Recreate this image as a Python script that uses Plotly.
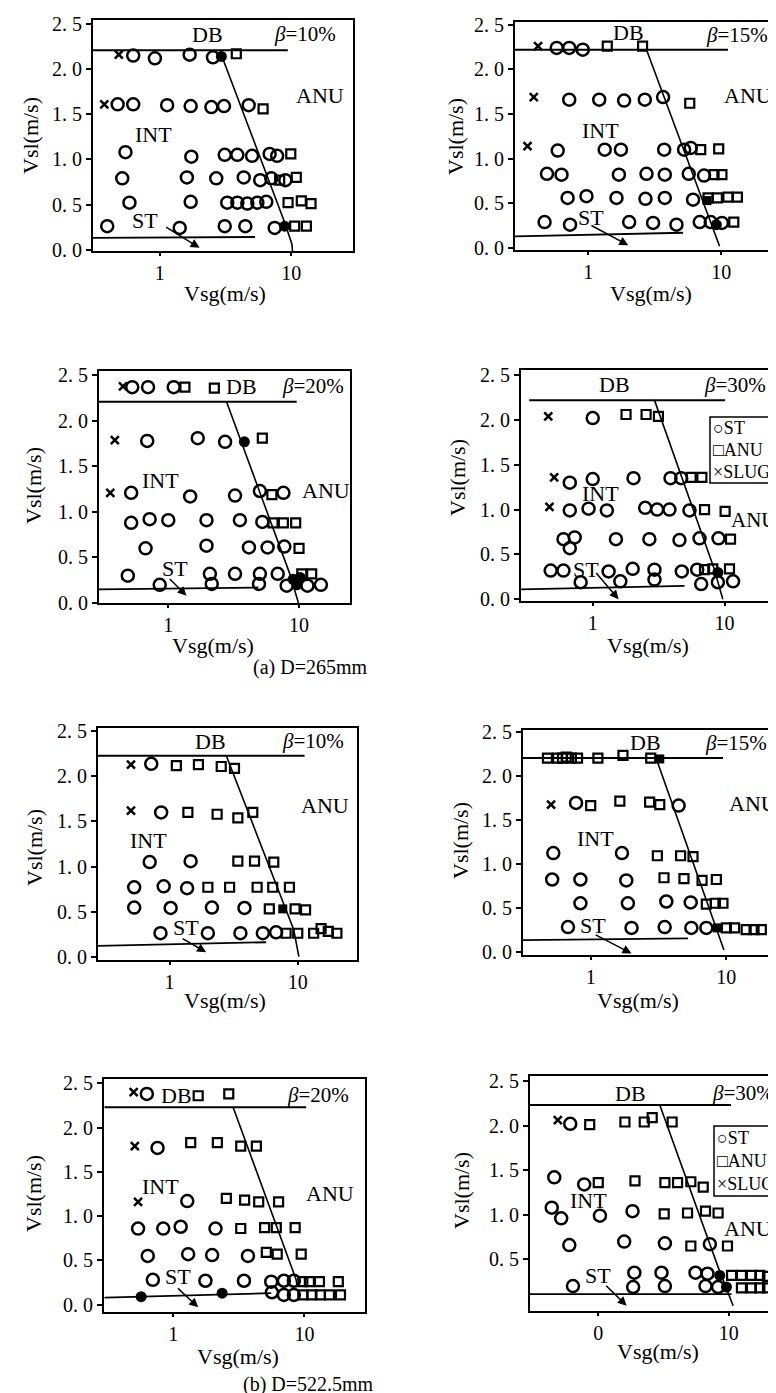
import numpy as np
import plotly.graph_objects as go

W, H = 776, 1393
FONT = "Liberation Serif, Times New Roman, serif"

# ---------------- data: (Vsg, Vsl) pairs, m/s ----------------
# (a) D=265mm, beta=10%
A10_ST = [(0.63,2.15),(0.92,2.12),(1.69,2.16),(2.54,2.13),
          (0.48,1.61),(0.63,1.61),(1.14,1.60),(1.72,1.59),(2.47,1.58),(3.08,1.59),(4.74,1.60),
          (0.55,1.08),(1.74,1.03),(3.12,1.05),(3.89,1.05),(5.03,1.04),(6.84,1.06),(7.8,1.04),
          (0.52,0.79),(1.61,0.80),(2.69,0.79),(4.35,0.80),(5.8,0.77),(7.05,0.79),(9.0,0.77),
          (0.59,0.52),(1.72,0.53),(3.26,0.52),(3.89,0.52),(4.63,0.51),(5.52,0.52),(6.45,0.53),
          (0.40,0.26),(1.42,0.24),(3.12,0.26),(4.47,0.26),(7.47,0.24)]
A10_ANU = [(3.82,2.17),(6.1,1.56),(9.9,1.06),(8.15,0.77),(10.9,0.80),
           (9.44,0.52),(11.9,0.54),(14.1,0.51),(10.6,0.26),(13.0,0.26)]
A10_SLUG = [(0.49,2.16),(0.38,1.61)]
A10_FILL = [(2.94,2.14),(8.9,0.26)]
A10_FILLSQ = []
A10_DB = [(0.31,2.21),(9.4,2.21)]
A10_STLINE = [(0.31,0.13),(5.3,0.14)]
A10_TRANS = [(2.94,2.16),(8.9,0.30),(10.1,0.06),(10.2,-0.02)]
A10_ARROW = [(1.09,0.26),(2.01,0.02)]

# (a) beta=15%
A15_ST = [(0.58,2.24),(0.72,2.24),(0.91,2.22),
          (0.72,1.66),(1.21,1.66),(1.86,1.65),(2.66,1.66),(3.65,1.69),
          (0.59,1.09),(1.33,1.10),(1.76,1.10),(3.72,1.10),(5.25,1.10),(5.89,1.12),
          (0.49,0.83),(0.63,0.82),(1.70,0.82),(2.74,0.83),(3.76,0.82),(5.69,0.83),(7.41,0.81),
          (0.70,0.56),(0.97,0.58),(1.63,0.56),(2.69,0.55),(3.76,0.56),(6.13,0.54),
          (0.47,0.29),(0.73,0.26),(2.03,0.29),(3.07,0.28),(4.6,0.26),(6.88,0.29),(8.32,0.29),(10.1,0.28)]
A15_ANU = [(1.39,2.26),(2.56,2.26),(5.79,1.62),(7.0,1.10),(9.55,1.11),(8.81,0.82),(10.1,0.82),
           (7.94,0.56),(9.33,0.56),(11.2,0.57),(13.2,0.57),(12.4,0.29)]
A15_SLUG = [(0.42,2.26),(0.39,1.69),(0.35,1.14)]
A15_FILL = [(9.17,0.26)]
A15_FILLSQ = [(7.8,0.53)]
A15_DB = [(0.28,2.22),(11.2,2.22)]
A15_STLINE = [(0.28,0.13),(5.16,0.17)]
A15_TRANS = [(2.74,2.22),(9.7,0.02)]
A15_ARROW = [(1.03,0.26),(2.0,0.03)]

# (a) beta=20%
A20_ST = [(0.53,2.37),(0.70,2.37),(1.10,2.37),
          (0.69,1.78),(1.68,1.81),(2.72,1.77),
          (0.52,1.21),(1.47,1.17),(3.24,1.18),(5.02,1.23),(7.6,1.21),
          (0.52,0.88),(0.72,0.92),(1.0,0.91),(1.96,0.91),(3.53,0.91),(5.24,0.89),
          (0.67,0.60),(1.96,0.63),(4.14,0.61),(5.75,0.61),(7.72,0.62),
          (0.49,0.30),(2.08,0.32),(3.24,0.32),(5.02,0.32),(6.87,0.32),
          (0.86,0.20),(2.15,0.21),(4.94,0.21),(8.05,0.19),(11.6,0.19),(14.7,0.20)]
A20_ANU = [(1.34,2.37),(2.25,2.36),(5.24,1.81),(6.2,1.19),(6.33,0.88),(7.59,0.88),(9.43,0.88),
           (10.0,0.60),(10.5,0.32),(12.5,0.32)]
A20_SLUG = [(0.45,2.38),(0.39,1.79),(0.36,1.21)]
A20_FILL = [(3.82,1.77),(9.0,0.26),(9.6,0.20),(10.2,0.28)]
A20_FILLSQ = []
A20_DB = [(0.295,2.21),(9.6,2.21)]
A20_STLINE = [(0.295,0.15),(4.89,0.17)]
A20_TRANS = [(2.79,2.21),(8.5,0.32),(9.9,0.0)]
A20_ARROW = [(1.0,0.28),(1.38,0.08)]

# (a) beta=30%
A30_ST = [(1.0,2.02),
          (0.67,1.30),(1.0,1.34),(2.04,1.35),(3.89,1.35),(4.69,1.35),
          (0.67,0.99),(0.93,1.01),(1.28,0.99),(2.50,1.02),(3.08,1.0),(3.82,1.0),(5.42,0.99),
          (0.60,0.67),(0.73,0.69),(0.67,0.57),(1.50,0.67),(2.69,0.67),(4.55,0.66),(6.46,0.68),(9.0,0.68),
          (0.48,0.32),(0.60,0.32),(1.32,0.31),(2.01,0.34),(2.94,0.33),(4.74,0.31),(6.2,0.33),
          (0.81,0.19),(1.62,0.20),(2.94,0.22),(6.65,0.17),(8.9,0.19),(11.6,0.20)]
A30_ANU = [(1.79,2.06),(2.54,2.06),(3.15,2.04),(5.58,1.36),(6.73,1.36),(7.05,1.0),(10.1,0.98),
           (11.1,0.67),(7.05,0.33),(8.15,0.34),(10.9,0.34)]
A30_SLUG = [(0.46,2.04),(0.51,1.36),(0.47,1.03)]
A30_FILL = [(8.9,0.30)]
A30_FILLSQ = []
A30_DB = [(0.33,2.22),(10.1,2.22)]
A30_STLINE = [(0.286,0.11),(4.97,0.15)]
A30_TRANS = [(2.94,2.22),(8.3,0.35),(9.7,0.0)]
A30_ARROW = [(1.04,0.31),(1.57,0.0)]

# (b) D=522.5mm, beta=10%
B10_ST = [(0.72,2.14),(0.86,1.60),(0.70,1.05),(1.46,1.06),
          (0.53,0.77),(0.90,0.78),(1.37,0.76),
          (0.53,0.545),(1.02,0.54),(2.14,0.545),(3.84,0.54),
          (0.85,0.26),(1.99,0.26),(3.57,0.26),(5.34,0.26),(6.78,0.27)]
B10_ANU = [(1.13,2.12),(1.68,2.13),(2.53,2.11),(3.21,2.09),
           (1.39,1.60),(2.35,1.58),(3.41,1.54),(4.46,1.60),
           (3.41,1.06),(4.6,1.06),(6.5,1.05),
           (1.99,0.77),(2.94,0.77),(4.82,0.77),(6.38,0.77),(8.61,0.77),
           (6.0,0.53),(9.53,0.53),(11.5,0.52),
           (8.11,0.26),(10.0,0.26),(13.3,0.26),(15.2,0.31),(17.3,0.28),(20.2,0.26)]
B10_SLUG = [(0.50,2.13),(0.50,1.62)]
B10_FILL = []
B10_FILLSQ = [(7.64,0.53)]
B10_DB = [(0.277,2.23),(11.3,2.23)]
B10_STLINE = [(0.277,0.12),(5.67,0.16)]
B10_TRANS = [(2.77,2.23),(9.3,0.30),(10.2,0.0)]
B10_ARROW = [(1.23,0.21),(1.93,0.05)]

# (b) beta=15%
B15_ST = [(0.78,1.69),(4.45,1.66),(0.53,1.12),(1.70,1.12),
          (0.52,0.82),(0.84,0.82),(1.83,0.81),
          (0.84,0.55),(1.88,0.55),(3.61,0.57),(5.46,0.56),
          (0.68,0.28),(2.0,0.27),(3.51,0.28),(5.52,0.27),(7.12,0.27)]
B15_ANU = [(0.48,2.20),(0.57,2.20),(0.62,2.20),(0.66,2.21),(0.72,2.20),(0.80,2.20),(1.13,2.20),
           (1.73,2.23),(2.77,2.20),
           (1.0,1.66),(1.64,1.71),(2.72,1.70),(3.23,1.67),
           (3.10,1.09),(4.6,1.09),(5.68,1.08),
           (3.47,0.84),(4.87,0.83),(6.62,0.81),(8.44,0.82),
           (7.12,0.54),(8.3,0.55),(9.44,0.55),
           (10.0,0.27),(11.5,0.27),(14.0,0.25),(16.0,0.25),(18.1,0.25)]
B15_SLUG = [(0.51,1.67)]
B15_FILL = []
B15_FILLSQ = [(3.23,2.19),(8.59,0.27)]
B15_DB = [(0.317,2.20),(9.45,2.20)]
B15_STLINE = [(0.317,0.13),(5.22,0.15)]
B15_TRANS = [(3.05,2.19),(9.6,0.02)]
B15_ARROW = [(1.06,0.20),(2.0,-0.02)]

# (b) beta=20%
B20_ST = [(0.63,2.38),(0.76,1.77),(1.28,1.17),
          (0.54,0.86),(0.84,0.86),(1.14,0.88),(2.10,0.86),
          (0.64,0.55),(1.30,0.57),(1.98,0.56),(3.71,0.55),
          (0.70,0.28),(1.76,0.27),(3.46,0.27),(5.58,0.26),(6.97,0.27),(8.30,0.27),
          (5.65,0.14),(6.97,0.11),(8.3,0.11)]
B20_ANU = [(1.55,2.36),(2.65,2.38),(1.36,1.83),(2.17,1.83),(3.27,1.79),(4.30,1.79),
           (2.54,1.20),(3.50,1.18),(4.48,1.16),(6.35,1.16),
           (3.27,0.86),(4.97,0.87),(6.10,0.87),(8.49,0.87),
           (5.12,0.59),(6.2,0.57),(9.44,0.57),
           (9.71,0.26),(10.9,0.26),(13.0,0.26),(18.1,0.26),
           (9.71,0.11),(11.4,0.11),(13.2,0.11),(15.5,0.11),(18.8,0.11)]
B20_SLUG = [(0.50,2.40),(0.51,1.79),(0.54,1.16)]
B20_FILL = [(0.57,0.09),(2.36,0.13)]
B20_FILLSQ = []
B20_DB = [(0.30,2.23),(10.3,2.23)]
B20_STLINE = [(0.30,0.08),(5.58,0.13)]
B20_TRANS = [(2.86,2.23),(8.65,0.28),(8.8,0.20)]
B20_ARROW = [(1.06,0.20),(1.55,-0.03)]

# (b) beta=30%
B30_ST = [(0.61,2.02),(0.46,1.42),(0.78,1.34),
          (0.44,1.08),(0.52,0.96),(1.03,0.99),(1.83,1.04),
          (0.60,0.66),(1.58,0.70),(3.24,0.68),(7.16,0.67),
          (1.89,0.35),(3.05,0.35),(5.56,0.35),(6.87,0.34),
          (0.64,0.20),(1.85,0.19),(3.24,0.20),(6.63,0.20),(8.28,0.19)]
B30_ANU = [(0.86,2.01),(1.60,2.04),(2.25,2.04),(2.59,2.09),(3.68,2.04),
           (1.0,1.36),(1.91,1.38),(3.24,1.36),(4.05,1.36),(5.12,1.37),(6.37,1.31),
           (3.20,1.01),(4.83,1.02),(6.63,1.04),(8.28,1.02),
           (5.12,0.65),(9.77,0.65),
           (10.5,0.32),(12.5,0.32),(14.9,0.32),(17.3,0.32),(19.8,0.31),
           (12.5,0.18),(14.9,0.18),(17.3,0.18),(19.8,0.18)]
B30_SLUG = [(0.49,2.06)]
B30_FILL = [(8.53,0.32),(9.6,0.19)]
B30_FILLSQ = []
B30_DB = [(0.30,2.23),(10.4,2.23)]
B30_STLINE = [(0.30,0.11),(10.5,0.11)]
B30_TRANS = [(2.96,2.23),(8.3,0.41),(10.8,-0.02)]
B30_ARROW = [(1.12,0.22),(1.65,-0.02)]

X_TICKS = [1, 10]
X_TICKTEXT = ["1", "10"]
X_TICKTEXT_B30 = ["0", "10"]
Y_TICKS = [0.0, 0.5, 1.0, 1.5, 2.0, 2.5]
Y_TICKTEXT = ["0. 0", "0. 5", "1. 0", "1. 5", "2. 0", "2. 5"]
BETAS = ["10%", "15%", "20%", "30%", "10%", "15%", "20%", "30%"]
CAPTIONS = ["(a) D=265mm", "(b) D=522.5mm"]
LEGEND_ITEMS = ["○ST", "□ANU", "×SLUG"]

# ---------------- layout of panels (pixels) ----------------
panels = [
    dict(d=(A10_ST, A10_ANU, A10_SLUG, A10_FILL, A10_FILLSQ, A10_DB, A10_STLINE, A10_TRANS, A10_ARROW),
         box=(85, 12, 345, 243), xr=(-0.506, 1.468), yr=(-0.015, 2.544),
         DB=(200, 26), beta=(297, 26, "center"), ANU=(312, 88, "center"), INT=(145, 127), ST=(137, 212),
         vsl=(22, 128), vsg=(217, 285)),
    dict(d=(A15_ST, A15_ANU, A15_SLUG, A15_FILL, A15_FILLSQ, A15_DB, A15_STLINE, A15_TRANS, A15_ARROW),
         box=(507, 14, 773, 242), xr=(-0.55, 1.448), yr=(-0.023, 2.53),
         DB=(620, 25), beta=(729, 27, "center"), ANU=(740, 88, "center"), INT=(592, 123), ST=(583, 210),
         vsl=(447, 128), vsg=(643, 285)),
    dict(d=(A20_ST, A20_ANU, A20_SLUG, A20_FILL, A20_FILLSQ, A20_DB, A20_STLINE, A20_TRANS, A20_ARROW),
         box=(91, 363, 342, 595), xr=(-0.53, 1.39), yr=(0.0, 2.548),
         DB=(233, 378), beta=(305, 378, "center"), ANU=(318, 482, "center"), INT=(152, 472), ST=(167, 560),
         vsl=(25, 477), vsg=(205, 637)),
    dict(d=(A30_ST, A30_ANU, A30_SLUG, A30_FILL, A30_FILLSQ, A30_DB, A30_STLINE, A30_TRANS, A30_ARROW),
         box=(513, 362, 776, 593), xr=(-0.544, 1.451), yr=(-0.019, 2.556),
         DB=(606, 377), beta=(727, 377, "center"), ANU=(721, 512, "left"), INT=(592, 485), ST=(578, 561),
         vsl=(450, 470), vsg=(640, 637), legend=(702, 409, 475)),
    dict(d=(B10_ST, B10_ANU, B10_SLUG, B10_FILL, B10_FILLSQ, B10_DB, B10_STLINE, B10_TRANS, B10_ARROW),
         box=(90, 720, 349, 952), xr=(-0.558, 1.462), yr=(-0.037, 2.537),
         DB=(202, 733), beta=(305, 733, "center"), ANU=(317, 797, "center"), INT=(140, 832), ST=(178, 920),
         vsl=(27, 840), vsg=(217, 992)),
    dict(d=(B15_ST, B15_ANU, B15_SLUG, B15_FILL, B15_FILLSQ, B15_DB, B15_STLINE, B15_TRANS, B15_ARROW),
         box=(515, 722, 776, 947), xr=(-0.499, 1.425), yr=(-0.038, 2.519),
         DB=(637, 735), beta=(695, 735, "left"), ANU=(745, 795, "center"), INT=(587, 830), ST=(585, 917),
         vsl=(452, 833), vsg=(630, 993)),
    dict(d=(B20_ST, B20_ANU, B20_SLUG, B20_FILL, B20_FILLSQ, B20_DB, B20_STLINE, B20_TRANS, B20_ARROW),
         box=(96, 1071, 357, 1304), xr=(-0.527, 1.461), yr=(-0.083, 2.549),
         DB=(168, 1087), beta=(310, 1087, "center"), ANU=(322, 1185, "center"), INT=(152, 1178), ST=(170, 1268),
         vsl=(25, 1185), vsg=(230, 1348)),
    dict(d=(B30_ST, B30_ANU, B30_SLUG, B30_FILL, B30_FILLSQ, B30_DB, B30_STLINE, B30_TRANS, B30_ARROW),
         box=(522, 1068, 776, 1303), xr=(-0.523, 1.423), yr=(-0.079, 2.556),
         DB=(622, 1085), beta=(702, 1085, "left"), ANU=(740, 1220, "center"), INT=(580, 1192), ST=(590, 1267),
         vsl=(453, 1183), vsg=(650, 1343), legend=(706, 1118, 1188), xtt=X_TICKTEXT_B30, noy0=True),
]


def px(x, y):
    return x / W, 1 - y / H


def xs(pts):
    return [p[0] for p in pts]


def ys(pts):
    return [p[1] for p in pts]


fig = go.Figure()
annotations = []
shapes = []
layout = {}
BLACK = "black"


def txt(t, pos, size=22, anchor="center", angle=0):
    ax_, ay_ = px(pos[0], pos[1])
    annotations.append(dict(x=ax_, y=ay_, xref="paper", yref="paper", text=t, showarrow=False,
                            xanchor=anchor, yanchor="middle", textangle=angle,
                            font=dict(family=FONT, size=size, color=BLACK)))


for i, p in enumerate(panels):
    n = i + 1
    xid = "x" if n == 1 else f"x{n}"
    yid = "y" if n == 1 else f"y{n}"
    xkey = "xaxis" if n == 1 else f"xaxis{n}"
    ykey = "yaxis" if n == 1 else f"yaxis{n}"
    st, anu, slug, fill, fillsq, db, stl, tr, arrow = p["d"]
    x0, y0, x1, y1 = p["box"]
    common = dict(showline=True, linewidth=2, linecolor=BLACK, mirror=True, showgrid=False,
                  zeroline=False, ticks="outside", tickcolor=BLACK, tickwidth=1.5, automargin=False,
                  tickfont=dict(family=FONT, size=20, color=BLACK))
    layout[xkey] = dict(common, type="log", range=list(p["xr"]), domain=[x0 / W, x1 / W], anchor=yid,
                        tickvals=X_TICKS, ticktext=p.get("xtt", X_TICKTEXT), ticklen=3)
    ytv = Y_TICKS[1:] if p.get("noy0") else Y_TICKS
    ytt = Y_TICKTEXT[1:] if p.get("noy0") else Y_TICKTEXT
    layout[ykey] = dict(common, range=list(p["yr"]), domain=[1 - y1 / H, 1 - y0 / H], anchor=xid,
                        tickvals=ytv, ticktext=ytt, ticklen=5)

    # boundary lines
    for ln, w in ((db, 2.0), (stl, 1.8), (tr, 1.6)):
        fig.add_trace(go.Scatter(x=xs(ln), y=ys(ln), mode="lines", line=dict(color=BLACK, width=w),
                                 xaxis=xid, yaxis=yid, showlegend=False, hoverinfo="skip"))

    specs = [
        (st, "ST", dict(symbol="circle-open", size=12, color=BLACK, line=dict(width=2.5, color=BLACK))),
        (anu, "ANU", dict(symbol="square-open", size=9, color=BLACK, line=dict(width=2.2, color=BLACK))),
        (slug, "SLUG", dict(symbol="x-thin-open", size=8, color=BLACK, line=dict(width=2.5, color=BLACK))),
    ]
    for pts, name, mk in specs:
        fig.add_trace(go.Scatter(x=xs(pts), y=ys(pts), mode="markers", marker=mk, name=name,
                                 xaxis=xid, yaxis=yid, showlegend=False))
    if fill:
        fig.add_trace(go.Scatter(x=xs(fill), y=ys(fill), mode="markers",
                                 marker=dict(symbol="circle", size=11, color=BLACK),
                                 xaxis=xid, yaxis=yid, showlegend=False))
    if fillsq:
        fig.add_trace(go.Scatter(x=xs(fillsq), y=ys(fillsq), mode="markers",
                                 marker=dict(symbol="square", size=9, color=BLACK),
                                 xaxis=xid, yaxis=yid, showlegend=False))

    # arrow from ST label to the boundary
    (tx, ty), (hx, hy) = arrow
    annotations.append(dict(x=np.log10(hx), y=hy, ax=np.log10(tx), ay=ty, xref=xid, yref=yid,
                            axref=xid, ayref=yid, showarrow=True, arrowhead=2, arrowsize=1.2,
                            arrowwidth=1.5, arrowcolor=BLACK, text=""))

    txt("DB", p["DB"])
    bx, by, banc = p["beta"]
    txt(f"<i>β</i>={BETAS[i]}", (bx, by), size=21, anchor=banc)
    axx, axy, aanc = p["ANU"]
    txt("ANU", (axx, axy), size=21 if aanc == "left" else 22, anchor=aanc)
    txt("INT", p["INT"])
    txt("ST", p["ST"])
    txt("Vsl(m/s)", p["vsl"], size=22, angle=-90)
    txt("Vsg(m/s)", p["vsg"], size=22)

    if "legend" in p:
        lx, ly0, ly1 = p["legend"]
        shapes.append(dict(type="rect", xref="paper", yref="paper", x0=lx / W, x1=1.05,
                           y0=1 - ly1 / H, y1=1 - ly0 / H, line=dict(color=BLACK, width=1.5),
                           fillcolor="white", layer="above"))
        step = (ly1 - ly0) / 3.0
        for k, item in enumerate(LEGEND_ITEMS):
            txt(item, (lx + 1, ly0 + step * (k + 0.5)), size=18, anchor="left")

for cap, pos in zip(CAPTIONS, [(302, 659), (300, 1376)]):
    txt(cap, pos, size=20)

fig.update_layout(width=W, height=H, margin=dict(l=0, r=0, t=0, b=0, autoexpand=False),
                  paper_bgcolor="white", plot_bgcolor="white", annotations=annotations,
                  shapes=shapes, showlegend=False,
                  font=dict(family=FONT, color=BLACK), **layout)

fig.write_html("out.html")
